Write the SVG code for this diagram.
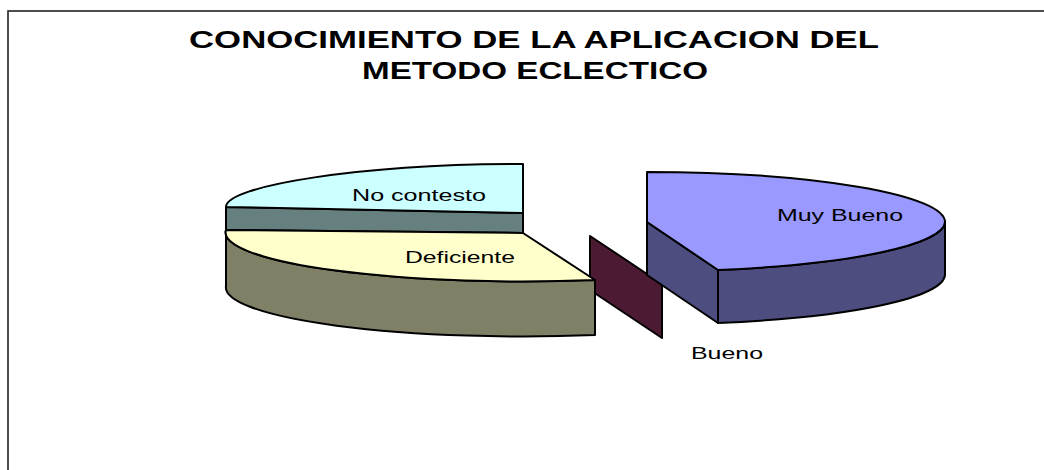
<svg xmlns="http://www.w3.org/2000/svg" width="1044" height="470" viewBox="0 0 1044 470">
<style>
.s{stroke:#000;stroke-width:2;stroke-linejoin:round}
.t{font-family:"Liberation Sans",Arial,sans-serif;font-weight:bold;font-size:23px;fill:#000}
.l{font-family:"Liberation Sans",Arial,sans-serif;font-size:16.5px;fill:#000}
</style>
<rect x="0" y="0" width="1044" height="470" fill="#fff"/>
<rect x="8" y="11" width="1100" height="520" fill="none" stroke="#222" stroke-width="1.6"/>
<g id="title">
<text class="t" x="534" y="48" text-anchor="middle" textLength="690" lengthAdjust="spacingAndGlyphs">CONOCIMIENTO DE LA APLICACION DEL</text>
<text class="t" x="535" y="79" text-anchor="middle" textLength="346" lengthAdjust="spacingAndGlyphs">METODO ECLECTICO</text>
</g>
<g id="bueno">
<path class="s" fill="#4d1a33" d="M590,236 L662,284 L662,338 L590,290 Z"/>
</g>
<g id="no-contesto">
<path class="s" fill="#668080" d="M226,207 L523,213 L523,233 L226,230 Z"/>
<path class="s" fill="#ccffff" d="M523,164 C359,164 226,186 226,207 L523,213 Z"/>
</g>
<g id="deficiente">
<path class="s" fill="#808066" d="M226,230 L226,286 A297,49 0 0 0 595,335 L595,280 A297,49 0 0 1 226,230 Z"/>
<path class="s" fill="#ffffcc" d="M523,233 L595,280 A297,49 0 0 1 226,230 Z"/>
</g>
<g id="muy-bueno">
<path class="s" fill="#4d4d80" d="M647,222 L718,270 L718,323 L647,275 Z"/>
<path class="s" fill="#4d4d80" d="M718,270 L718,323 A298,50 0 0 0 945,275 L945,222 A298,50 0 0 1 718,270 Z"/>
<path class="s" fill="#9999ff" d="M647,172 A298,50 0 0 1 945,222 A298,50 0 0 1 718,270 L647,222 Z"/>
</g>
<g id="labels">
<text class="l" x="352" y="201" textLength="134" lengthAdjust="spacingAndGlyphs">No contesto</text>
<text class="l" x="405" y="263" textLength="110" lengthAdjust="spacingAndGlyphs">Deficiente</text>
<text class="l" x="777" y="221" textLength="126" lengthAdjust="spacingAndGlyphs">Muy Bueno</text>
<text class="l" x="691" y="359" textLength="72" lengthAdjust="spacingAndGlyphs">Bueno</text>
</g>
</svg>
